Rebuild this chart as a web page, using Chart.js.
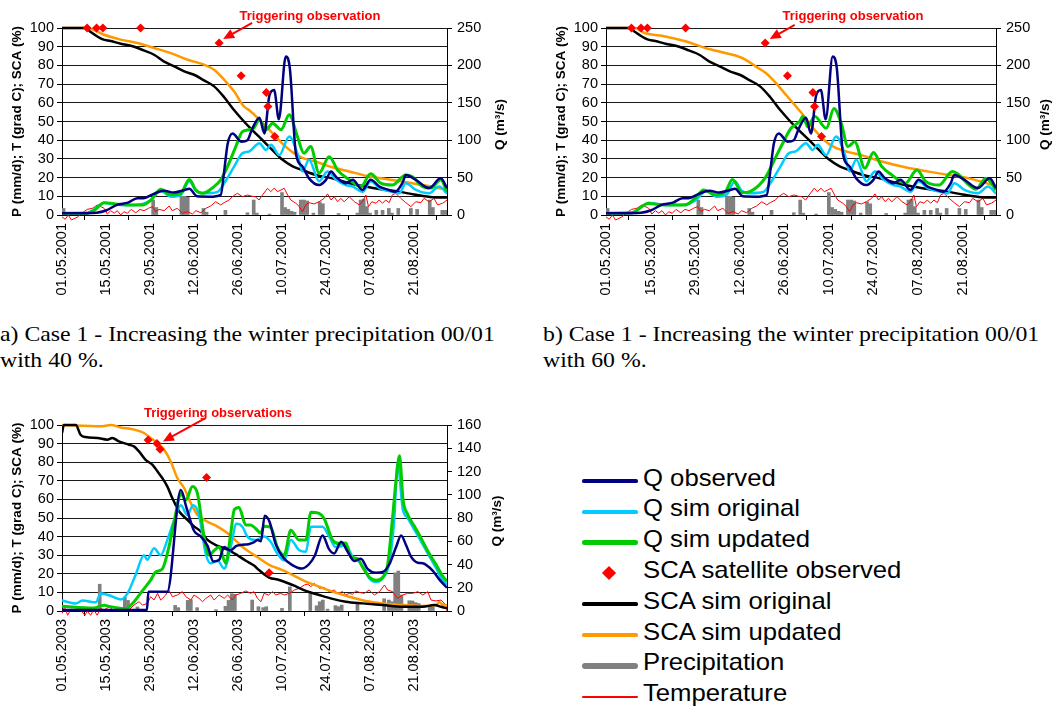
<!DOCTYPE html>
<html>
<head>
<meta charset="utf-8">
<script src="https://cdn.jsdelivr.net/npm/chart.js@4.4.0/dist/chart.umd.min.js"></script>
<style>
  body { margin: 0; background: #fff; width: 1053px; height: 709px; position: relative; overflow: hidden; }
  canvas { position: absolute; }
  .cap { position: absolute; font-family: "Liberation Serif", "Times New Roman", serif; font-size: 22px;
         line-height: 26px; white-space: nowrap; color: #000; transform: scaleX(1.08); transform-origin: 0 0; }
  .lg-text { position: absolute; font-family: "Liberation Sans", Arial, sans-serif; font-size: 24px; line-height: 24px;
             white-space: nowrap; color: #000; transform: scaleX(1.07); transform-origin: 0 0; }
  .lg-line { position: absolute; }
</style>
</head>
<body>
<canvas id="chartA" width="530" height="300" style="left:0;top:0"></canvas>
<canvas id="chartB" width="523" height="300" style="left:530px;top:0"></canvas>
<canvas id="chartC" width="530" height="310" style="left:0;top:395px"></canvas>
<div class="cap" style="left:0;top:321px">a) Case 1 - Increasing the winter precipitation 00/01<br>with 40 %.</div>
<div class="cap" style="left:543px;top:321px">b) Case 1 - Increasing the winter precipitation 00/01<br>with 60 %.</div>
<div id="legend"></div>

<script>
// x values are days after 1 May
const dateTicks2001 = ['01.05.2001', '15.05.2001', '29.05.2001', '12.06.2001', '26.06.2001', '10.07.2001', '24.07.2001', '07.08.2001', '21.08.2001'];
const dateTicks2003 = ['01.05.2003', '15.05.2003', '29.05.2003', '12.06.2003', '26.06.2003', '10.07.2003', '24.07.2003', '07.08.2003', '21.08.2003'];

// ---- 2001 (panels a and b) ----  Q in m3/s, SCA in %, P in mm/d, T in deg C
const qObs2001 = [[0,2.5],[8,2.5],[11,3],[14,6],[17.5,13.5],[21,16.5],[24,22.5],[26,22.5],[29,28],[32.5,32.5],[35.5,30],[39,33.5],[40.5,35],[43,25],[47,24.5],[50.5,27],[51.5,55],[52.7,95],[54.3,109],[57,98],[59,100],[60.5,115],[62.8,130],[64.4,109],[66,160],[67.5,167],[69,128],[71.2,212],[72.5,196],[74.4,83],[76.5,65],[78.6,49],[81.8,40],[84,47],[85.6,58],[87.2,51],[90.3,42.5],[92.5,47],[95.6,33.5],[98.2,47],[101,38],[104,33.5],[106,31],[108.3,42.5],[109.4,53.5],[112.6,47],[116.8,36],[120.5,49],[122.5,36]];
const qOrig2001 = [[0,2.5],[8,3],[11.3,11],[13.4,16.5],[15.5,15],[18.7,13.5],[23,13.5],[26,15],[28.3,20],[31.4,32.5],[34.6,24.5],[37.8,27],[40.5,45],[42.6,32.5],[45.2,29],[49.5,31],[51.6,42.5],[54.8,65],[57.4,82.5],[59.6,85],[62.8,96],[64.9,87],[66.5,94],[69.1,80],[72.3,105],[74.9,82.5],[76.5,58],[78.6,74],[81.8,45],[84.5,58],[87.2,47],[90.3,40],[92.5,38],[95.6,31],[98.2,45],[101,36],[105,31],[107.3,29],[109.4,42.5],[112.6,33.5],[116.8,29],[120,38],[122.5,28.5]];
const qUpd2001a = [[0,2.5],[8,2.5],[10.2,6],[13.4,16.5],[16.6,15],[20.8,13.5],[25.6,13.5],[28.3,20],[31.4,34.5],[34.6,27],[37.8,29],[40.5,47.5],[42.6,33.5],[44.7,29],[48.4,38],[50.5,47],[52.7,65],[55.3,91.5],[57.4,111.5],[59.6,114],[61,116],[62.8,127.5],[64.9,114],[67,122.5],[69.7,114],[72.3,134],[74.9,105],[77,82.5],[79.1,91.5],[81.8,56],[85,78],[87.7,60],[91.4,47],[95.1,38],[98.2,55],[101.4,42.5],[105.1,40],[109.4,53.5],[111.5,51],[114.7,38],[117.3,36],[120.5,47],[122.5,31]];
const qUpd2001b = [[0,2.5],[8,3],[13.3,15.5],[18.6,13.5],[24.9,13.5],[28,22.5],[30.7,33.5],[34.4,27],[37.5,31],[39.7,47.5],[42.8,30],[44.9,31],[48.1,40],[50.2,51],[53.4,78],[56,100],[58.1,116],[60.8,125],[61.8,132],[63.4,118],[65.5,132],[69.2,116],[71.6,142.5],[73.9,122.5],[76,91.5],[78.1,98],[81.3,62.5],[84,83.5],[86.6,65],[89.8,53.5],[94,42.5],[97.7,60],[100.4,45],[104.6,40],[108.8,58],[110.9,53.5],[114,40],[116.2,34.5],[119.3,49],[122.5,33.5]];
const scaOrig2001 = [[0,100],[7.5,100],[9,98],[12.8,94],[15.5,93],[18.7,91.6],[23,90],[26,88],[29.3,85.7],[32.5,82],[35.7,79.5],[38.9,76.8],[42,75],[45.2,72],[48.4,68.8],[51.6,63],[54.8,56],[57.9,50],[59.6,47],[63.8,40],[66.9,34.8],[70.2,29.5],[73.4,26],[76.5,24],[80.8,21.4],[86,19.6],[91.4,17],[96.7,15.2],[102,13.6],[107,12.5],[112,11],[118,9.5],[122.5,9.3]];
const scaUpd2001a = [[0,100],[8,100],[11.3,98],[13.4,96.4],[18.7,93.8],[24,92],[29.3,89.3],[34.6,86.6],[40,83],[45.2,80.4],[48.4,77.7],[51.6,72.3],[54.8,66],[57.9,58],[59.6,56],[62.8,51],[66,45.5],[70.2,38],[73.4,33.5],[76.5,30.5],[80.8,28.5],[86,25.5],[91.4,23.3],[96.7,21],[102,19.5],[107.3,18.2],[112.6,16.6],[118,15],[122.5,13.5]];
const scaUpd2001b = [[0,100],[9,100],[12.2,97.3],[18.6,95.5],[24.9,92.9],[31.2,89.3],[37.5,86.6],[42,84.5],[43.9,83],[47,79.5],[50.2,75.9],[53.4,70.5],[56.5,64.3],[59.2,59],[62.3,52.7],[65.5,45.5],[69.7,38.4],[73.9,34.8],[80.2,32],[86.6,28.6],[94,25.5],[101.4,23.2],[107.7,21.4],[114,19.6],[122.5,15.5]];
const sat2001 = [[8,100],[11,100],[13,100],[25,100],[50,92],[57,74.5],[65,65.5],[65.5,58],[67.7,42]];
const temp2001 = [[0,-1],[1,-2.3],[2,0],[3,-2.7],[5,-1],[6.5,1.2],[8,3],[9.7,3.6],[11.3,5.4],[12.3,4.5],[13.4,3.6],[14.4,0.5],[15.5,2.3],[16.6,1],[17.6,2.3],[18.7,0],[19.7,1.8],[20.8,0.9],[22,3],[23.5,1.2],[24.8,3],[26.1,2.3],[27.5,3.6],[28.8,4.5],[29.8,1.8],[30.9,3],[32.5,2.3],[34.1,4.8],[35.1,2.3],[36.7,3.6],[38.3,0.9],[39.9,1.8],[41.5,0.5],[42.6,2.3],[44.2,1.2],[45.8,3.6],[47.3,4.8],[48.9,7.1],[50.5,5.4],[51.6,6.6],[53.2,8],[54.2,9.8],[55.8,11.6],[57.4,9.8],[59,10.7],[60.5,10],[61.5,9.8],[62.7,8],[63.8,10.7],[65.4,14.3],[66.4,12.5],[67.5,14.3],[68.6,12.5],[69.7,13.4],[70.7,14.3],[71.8,10.7],[72.8,8],[74.4,6.3],[75.5,4.5],[76.5,1.8],[77.6,5.4],[78.6,6.6],[80.2,5.9],[81.8,7.1],[83.4,8.9],[84.5,11.3],[85.6,8],[86.6,9.8],[87.7,7.1],[88.7,8.9],[89.8,7.1],[91.4,9.8],[93,7.1],[94.6,5.4],[95.6,7.1],[96.7,10.7],[97.5,4.5],[98.6,7.1],[99.9,6.3],[100.9,8],[102,6.3],[103,8],[104.1,6.6],[105.1,10.7],[106.2,11.6],[107.8,8.9],[109.4,6.6],[111,4.5],[112.6,7.1],[114.2,6.6],[115.2,8.9],[116.8,7.1],[118.4,8.9],[119.5,5.4],[121.1,6.3],[122.5,8]];
const precip2001 = [[0.5,3.5],[29,8],[30,4],[38,10],[39,10],[40,9.5],[45,3.5],[46,1.5],[52,2.5],[59,1.2],[61,8],[62,1],[66,0.5],[70,12],[71,4],[72,3],[73,2],[74,1.5],[76,8],[77,8],[78,7.5],[80,1],[82,7],[83,6],[88,0.8],[94,1],[95,8],[96,8.5],[97,4.5],[98,1],[100,2.5],[102,2.5],[104,3.5],[105,1],[107,3.5],[111,3.5],[113,3],[117,8],[118,4],[121,2.5],[122,2.5]];

// ---- 2003 (panel c) ----
const qObs2003 = [[0,0.8],[27,0.8],[27.5,16.5],[33.5,16.5],[37.8,104],[39.6,89],[42,69],[44.2,64],[46.3,56],[48.2,42.5],[50,44],[51.6,55],[53.5,52],[55.5,56],[57.4,57],[59.3,57.5],[61,59],[62.2,61],[63.3,60],[64.5,82],[66,77],[68,57.5],[70.5,45.5],[73.3,39.5],[76.2,36.5],[78.5,40],[80.5,48],[82.9,65],[85,53],[86.6,49.5],[88.8,59.5],[90.9,51],[93,43],[95.1,45],[97.3,36],[99.9,33],[102,33.5],[104.1,40],[106.3,55],[107.9,65],[109.5,56.5],[111.1,46.5],[113.2,41.5],[114.8,41],[118,34.5],[120.1,27],[122.5,20]];
const qOrig2003 = [[0,9],[4.4,6.5],[6.5,9],[10.8,7.5],[12.3,15],[15,13.5],[18.7,10],[20.8,15],[23.4,31],[26.1,48],[27.1,44],[29.3,54],[31.4,48],[33.5,61],[35.7,78],[37.8,91],[39.9,82.5],[41.7,91],[43.6,82.5],[45.7,49.5],[47.3,41],[49.5,43.5],[51.6,36.5],[53.7,55],[55.5,75],[57.4,72.5],[59,64],[61.6,61],[64.3,64],[66.4,59.5],[68.5,49.5],[70.7,43.5],[72.8,61],[75.4,52.5],[77.6,51],[79.2,72.5],[82.9,72.5],[85,64],[87.1,55],[90.3,56.5],[92.5,46.5],[94,44],[96.2,36.5],[97.8,28],[99.9,25],[102,28],[104.1,41],[105.7,78],[106.8,128],[108.4,88],[110,80],[112,70.5],[114,61],[116.5,49],[119,37],[121,27],[122.5,23]];
const qUpd2003 = [[0,4],[10,2.5],[13.4,5],[15,4],[20.3,2],[22.4,6.5],[25.6,17.5],[28.2,26.5],[29.8,33.5],[32,36.5],[34,55],[36.2,84],[37.8,101],[39.4,95.5],[41.5,107],[43.1,101],[45.2,64],[46.8,48],[48.4,52],[50,55],[52.1,41],[53.7,67],[54.8,87],[56.3,89],[58.5,74],[60,74],[61.6,71],[63.2,67],[64.3,73],[66.4,72],[68.5,55],[70.7,48],[72.8,69.5],[75.4,61],[77.6,61],[79.2,85],[81.8,84],[83.4,79.5],[86.1,61],[88.2,58],[90.3,58.5],[91.9,46.5],[94,45],[95.6,38],[97.8,29],[99.9,26.5],[102,29],[103.6,39.5],[105.2,81],[106.3,112.5],[107.4,133.5],[108.5,96],[110,83],[112,73.5],[114,64],[116.5,51],[119,40],[121,30.5],[122.5,25.5]];
const scaOrig2003 = [[0,95.7],[0.6,100],[4.4,100],[5.9,94.8],[7.5,93.5],[11.3,93],[14.4,92.1],[16,93],[18.1,91.2],[21.3,89.4],[22.9,88.5],[24.5,85.8],[26.6,81.3],[28.8,78.6],[30.4,75],[31.9,71.5],[33.5,67],[35.1,60.7],[37.3,53.5],[39.9,49],[42,45.5],[44.2,42.7],[46.3,38.2],[49.5,35],[52.7,33],[55.8,30],[58.5,27],[61.1,24.4],[62.7,22],[65.9,18],[69.1,16.7],[73.3,14],[77.6,10.8],[81.8,8.6],[86.1,6.5],[90.3,5],[95.6,4.1],[102,3.2],[108.4,2.3],[114.7,2.3],[118.5,3.2],[120.6,2.3],[122.5,1.4]];
const scaUpd2003 = [[0,100],[12.3,99.3],[15.5,100],[18.7,98.7],[23,97.5],[26.1,95.7],[28.2,93],[30.4,90.3],[32.5,86.7],[34.6,80.4],[36.7,71.5],[38.9,66],[41,58],[43.1,51.7],[46.3,48],[49.5,45.4],[52.7,41.8],[55.8,37],[58.5,33],[61.1,30.2],[62.7,28.4],[65.9,24.8],[70.2,22],[73.3,19.4],[77.6,15.8],[81.8,13.1],[86.1,10.4],[91.4,7.7],[96.7,5.4],[102,4.1],[108.4,3.2],[114.7,2.7],[119,3.2],[120,4.7],[121.1,3.5],[122.5,2.9]];
const sat2003 = [[27.4,91.9],[30.2,90.1],[31.2,87],[46,71.8],[65.9,20.5]];
const temp2003 = [[0,-1.4],[0.8,2.2],[1.8,-2.3],[2.9,1],[3.9,0],[4.9,1.8],[6.2,0],[7.3,-2.3],[8,0],[9.1,-2.3],[10.1,0.7],[11.2,-2.3],[12.3,1.4],[13.4,0.5],[15,2.3],[16.6,0],[18,1],[19.7,1.8],[21.3,0.5],[22.9,3.2],[24.5,5],[25.6,3.2],[27.2,4.1],[28.2,7.7],[29.3,5.9],[30.4,9.5],[31.4,5.9],[33,8.6],[34,11.3],[35.1,7.7],[36.7,8.6],[38.3,10.4],[39.4,7.7],[41,5.9],[42,8.6],[43.6,6.8],[44.7,5],[45.8,6.8],[47.3,8.6],[48.4,5.9],[50,8.6],[51.6,6.8],[52.7,8.6],[54.2,5.9],[55.3,8.6],[56.9,9.5],[58.5,10.8],[60,9.5],[61.1,10.4],[62.2,6.8],[63.3,5],[64.3,9.5],[65.7,8.6],[67,10.4],[68,8.6],[69.6,9.5],[70.7,8.6],[72.3,9.5],[74,11.3],[75.5,12.2],[77.1,14],[78.2,14.4],[79.2,13.1],[80.3,14.9],[81.9,12.2],[83.5,12.6],[85,10.4],[86.6,11.3],[87.7,9.5],[89.3,10.4],[90.3,8.6],[91.4,9.5],[92.4,9],[93.5,10.8],[94.6,10],[96.2,9.5],[97.7,11.3],[99.4,8.6],[101,10.4],[102.6,14],[103.6,11.3],[105.2,10.4],[106.8,6.8],[108.4,8.6],[110,9.5],[111.6,9.5],[113.2,10.4],[114.8,8.6],[116.4,10.4],[117.4,5.9],[119,5.4],[120.6,5.9],[122.2,3.2],[122.5,0]];
const precip2003 = [[12,14.4],[20,7.5],[21,5.7],[24,2.2],[36,3],[37,1.8],[40,5.7],[41,6],[43,1.8],[49,0.7],[52,2.5],[53,5.7],[54,9.3],[55,9],[60.5,5.9],[62.5,2.3],[64,1.8],[65,2.3],[70,1.4],[72.5,13],[79,9.5],[81,2.8],[82,5],[83,5.9],[84.5,1],[87,2.9],[88,2.3],[89,3.2],[94,4.1],[102.5,6.6],[104,5.9],[105,5],[106,20.5],[107,21.5],[108,8.6],[110.5,5.5],[111.5,5.4],[112.5,4.5],[113.5,4],[117,2.3],[118,2.3]];

const FONT = '"Liberation Sans", Arial, sans-serif';
Chart.defaults.font.family = FONT;
Chart.defaults.color = '#000';

const pts = arr => arr.map(([x, y]) => ({ x, y }));
const OVERFLOW = { left: 0, top: 6, right: 0, bottom: 8 };   // let marks at 100 / below 0 show fully

// right axis title (reads bottom to top) and the red "Triggering observation" note
const panelExtras = {
  id: 'panelExtras',
  afterDraw(chart, args, o) {
    const { ctx, chartArea } = chart;
    ctx.save();
    ctx.font = 'bold 13.5px ' + FONT;
    ctx.fillStyle = '#000';
    ctx.textAlign = 'center';
    ctx.textBaseline = 'middle';
    ctx.translate(chartArea.right + o.rightTitleGap, (chartArea.top + chartArea.bottom) / 2 + 3);
    ctx.rotate(-Math.PI / 2);
    ctx.fillText(o.rightTitle, 0, 0);
    ctx.restore();

    const p = chart.getDatasetMeta(3).data[o.target];
    const tipX = p.x + o.tipOff[0], tipY = p.y + o.tipOff[1];
    const tailX = tipX + o.tail[0], tailY = tipY + o.tail[1];
    const a = Math.atan2(tipY - tailY, tipX - tailX);
    const c = Math.cos(a), s = Math.sin(a);
    ctx.save();
    ctx.strokeStyle = '#FF0000';
    ctx.fillStyle = '#FF0000';
    ctx.lineWidth = 2;
    ctx.beginPath();
    ctx.moveTo(tailX, tailY);
    ctx.lineTo(tipX - 8 * c, tipY - 8 * s);
    ctx.stroke();
    ctx.beginPath();
    ctx.moveTo(tipX, tipY);
    ctx.lineTo(tipX - 11 * c + 5 * s, tipY - 11 * s - 5 * c);
    ctx.lineTo(tipX - 11 * c - 5 * s, tipY - 11 * s + 5 * c);
    ctx.closePath();
    ctx.fill();
    ctx.font = 'bold 13px ' + FONT;
    ctx.textAlign = 'center';
    ctx.textBaseline = 'middle';
    ctx.fillText(o.note, o.noteX, o.noteY);
    ctx.restore();
  }
};

function drawPanel(id, d) {
  const line = (label, data, color, width, order, axis) => ({
    label, data: pts(data), borderColor: color, backgroundColor: color, borderWidth: width,
    pointRadius: 0, cubicInterpolationMode: 'monotone', order, yAxisID: axis || 'y', clip: OVERFLOW
  });
  return new Chart(document.getElementById(id), {
    type: 'line',
    data: {
      datasets: [
        line('Q observed', d.qObs, '#000080', 2.5, 1, 'yQ'),
        line('Q sim original', d.qOrig, '#00CCFF', 2.5, 3, 'yQ'),
        line('Q sim updated', d.qUpd, '#00CC00', 3, 2, 'yQ'),
        { label: 'SCA satellite observed', data: pts(d.sat), showLine: false, pointStyle: 'rectRot',
          pointRadius: 4.5, pointBackgroundColor: '#FF0000', pointBorderWidth: 0, borderColor: '#FF0000',
          backgroundColor: '#FF0000', order: 0, clip: OVERFLOW },
        line('SCA sim original', d.scaOrig, '#000000', 2.5, 4),
        line('SCA sim updated', d.scaUpd, '#FF9900', 2.5, 5),
        { type: 'bar', label: 'Precipitation', data: pts(d.precip), backgroundColor: '#808080',
          borderColor: '#808080', barThickness: 3, order: 7 },
        { label: 'Temperature', data: pts(d.temp), borderColor: '#FF0000', backgroundColor: '#FF0000',
          borderWidth: 1, pointRadius: 0, order: 6, clip: OVERFLOW }
      ]
    },
    options: {
      responsive: false,
      animation: false,
      events: [],
      layout: { padding: { top: d.padTop, left: 0, right: 0, bottom: 0 } },
      plugins: {
        legend: { display: false },
        tooltip: { enabled: false },
        panelExtras: d.extras
      },
      scales: {
        x: {
          type: 'linear', min: 0, max: 122.5, offset: false,
          afterBuildTicks: s => { s.ticks = d.dateTicks.map((_, i) => ({ value: i * 14 })); },
          afterFit: s => { s.height = d.bottomH; },
          grid: { drawOnChartArea: false, drawTicks: true, tickLength: 5, color: '#000' },
          border: { color: '#000', width: 1 },
          ticks: { autoSkip: false, minRotation: 90, maxRotation: 90, padding: 3, font: { size: 14.5 },
                   callback: (v, i) => d.dateTicks[i] }
        },
        y: {
          position: 'left', min: 0, max: 100,
          afterFit: s => { s.width = d.leftW; },
          grid: { color: '#1a1a1a', tickColor: '#000', tickLength: 5 },
          border: { color: '#000', width: 1 },
          ticks: { stepSize: 10, autoSkip: false, padding: 3, font: { size: 14.5 } },
          title: { display: true, text: 'P (mm/d); T (grad C); SCA (%)', font: { size: 13.5, weight: 'bold' },
                   padding: { top: d.titlePad, bottom: 0 } }
        },
        yQ: {
          position: 'right', min: 0, max: d.qMax,
          afterFit: s => { s.width = d.rightW; },
          grid: { drawOnChartArea: false, tickColor: '#000', tickLength: 5 },
          border: { color: '#000', width: 1 },
          ticks: { stepSize: d.qStep, autoSkip: false, padding: 5, font: { size: 14.5 } }
        }
      }
    },
    plugins: [panelExtras]
  });
}

drawPanel('chartA', {
  qObs: qObs2001, qOrig: qOrig2001, qUpd: qUpd2001a, sat: sat2001, scaOrig: scaOrig2001, scaUpd: scaUpd2001a,
  precip: precip2001, temp: temp2001, dateTicks: dateTicks2001, qMax: 250, qStep: 50,
  padTop: 28, bottomH: 85, leftW: 62, rightW: 83, titlePad: 9,
  extras: { rightTitle: 'Q (m³/s)', rightTitleGap: 53, note: 'Triggering observation', noteX: 310, noteY: 16,
            target: 4, tipOff: [4, -4], tail: [29, -16] }
});

drawPanel('chartB', {
  qObs: qObs2001, qOrig: qOrig2001, qUpd: qUpd2001b, sat: sat2001, scaOrig: scaOrig2001, scaUpd: scaUpd2001b,
  precip: precip2001, temp: temp2001, dateTicks: dateTicks2001, qMax: 250, qStep: 50,
  padTop: 28, bottomH: 85, leftW: 76, rightW: 57, titlePad: 23,
  extras: { rightTitle: 'Q (m³/s)', rightTitleGap: 49, note: 'Triggering observation', noteX: 323, noteY: 16,
            target: 4, tipOff: [4.5, -4], tail: [25, -14] }
});

const chartC = drawPanel('chartC', {
  qObs: qObs2003, qOrig: qOrig2003, qUpd: qUpd2003, sat: sat2003, scaOrig: scaOrig2003, scaUpd: scaUpd2003,
  precip: precip2003, temp: temp2003, dateTicks: dateTicks2003, qMax: 160, qStep: 20,
  padTop: 30, bottomH: 94, leftW: 62, rightW: 83, titlePad: 9,
  extras: { rightTitle: 'Q (m³/s)', rightTitleGap: 50, note: 'Triggering observations', noteX: 218, noteY: 18,
            target: 1, tipOff: [6, -2], tail: [42, -23] }
});

// shared legend, built from the datasets of the last panel
(function buildLegend(chart) {
  const box = document.getElementById('legend');
  chart.data.datasets.forEach((ds, i) => {
    const y = 481 + i * 30.8;
    const sample = document.createElement('div');
    sample.className = 'lg-line';
    if (ds.showLine === false) {
      Object.assign(sample.style, { left: '604px', top: (y - 5) + 'px', width: '10px', height: '10px',
        background: ds.pointBackgroundColor, transform: 'rotate(45deg)' });
    } else {
      const h = ds.type === 'bar' ? 6 : Math.max(2, ds.borderWidth * 1.5);
      Object.assign(sample.style, { left: '582px', top: (y - h / 2) + 'px', width: '56px', height: h + 'px',
        background: ds.borderColor, borderRadius: (h / 2) + 'px' });
    }
    box.appendChild(sample);
    const t = document.createElement('div');
    t.className = 'lg-text';
    t.style.left = '643px';
    t.style.top = (y - 15.5) + 'px';
    t.textContent = ds.label;
    box.appendChild(t);
  });
})(chartC);
</script>
</body>
</html>
